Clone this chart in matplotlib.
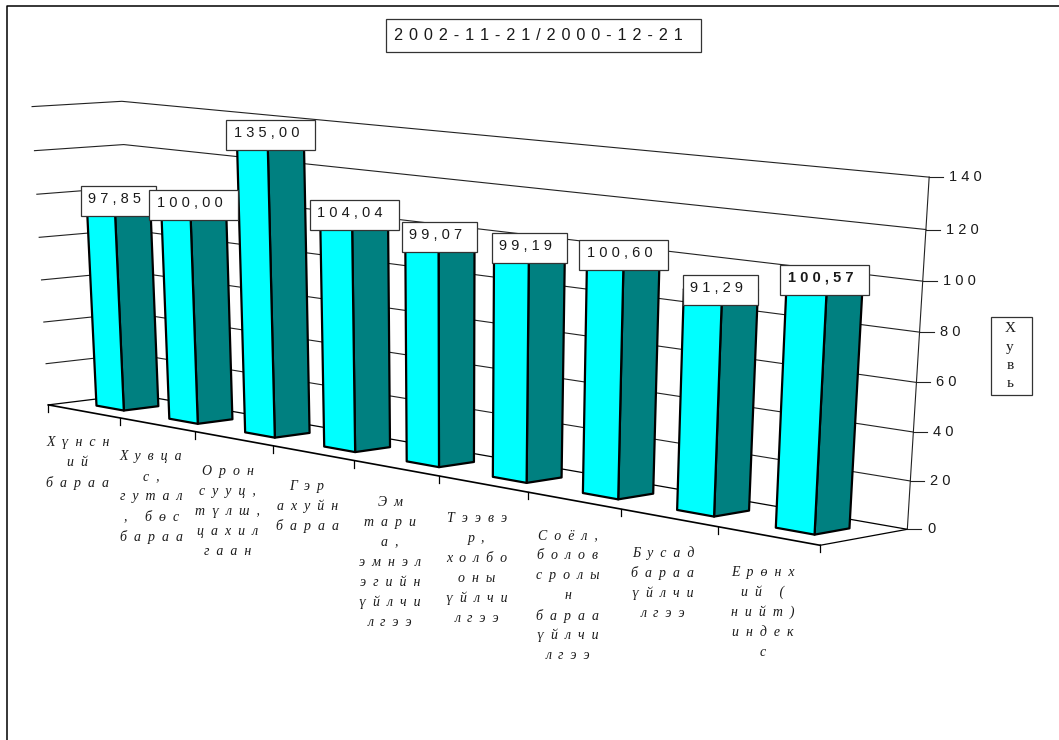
import numpy as np
import matplotlib
matplotlib.use("Agg")
import matplotlib.pyplot as plt
from matplotlib.patches import Polygon, Rectangle

title = "2002-11-21/2000-12-21"
axis_name = ["Х", "у", "в", "ь"]

values = [97.85, 100.00, 135.00, 104.04, 99.07, 99.19, 100.60, 91.29, 100.57]
value_labels = ["97,85", "100,00", "135,00", "104,04", "99,07",
                "99,19", "100,60", "91,29", "100,57"]
categories = [
    ["Хүнсн", "ий", "бараа"],
    ["Хувца", "с,", "гутал", ", бөс", "бараа"],
    ["Орон", "сууц,", "түлш,", "цахил", "гаан"],
    ["Гэр", "ахуйн", "бараа"],
    ["Эм", "тари", "а,", "эмнэл", "эгийн", "үйлчи", "лгээ"],
    ["Тээвэ", "р,", "холбо", "оны", "үйлчи", "лгээ"],
    ["Соёл,", "болов", "сролы", "н", "бараа", "үйлчи", "лгээ"],
    ["Бусад", "бараа", "үйлчи", "лгээ"],
    ["Ерөнх", "ий (", "нийт)", "индек", "с"],
]
y_ticks = [0, 20, 40, 60, 80, 100, 120, 140]

CYAN = "#00ffff"
TEAL = "#008080"
INK = "#1a1a1a"

# chart box (u = category, d = depth, h = value) to pixel, fitted on corners and ticks
n = len(values)
box_pts = [(0, 0, 0), (3, 0, 0), (6, 0, 0), (n, 0, 0), (n, 1, 0), (0, 1, 0),
           (n, 1, 60), (n, 1, 140), (0, 1, 140), (0, 0, 140), (0, 0, 60)]
pix_pts = [(48, 405), (272, 447), (527, 493), (822, 541), (907, 531), (135, 393),
           (916, 384), (929, 177), (122, 100), (32, 107), (42, 281)]

rows = []
rhs = []
for (u, d, h), (px, py) in zip(box_pts, pix_pts):
    rows.append([u, d, h, 1, 0, 0, 0, 0, -px * u, -px * d, -px * h])
    rows.append([0, 0, 0, 0, u, d, h, 1, -py * u, -py * d, -py * h])
    rhs += [px, py]
cam = np.linalg.lstsq(np.array(rows, float), np.array(rhs, float), rcond=None)[0]
cam = np.append(cam, 1).reshape(3, 4)


def project(u, d, h):
    p = cam @ np.array([u, d, h, 1.0])
    return p[0] / p[2], p[1] / p[2]


def spaced(text, gap=" "):
    return gap.join(text)


def text_box(ax, cx, cy, w, h, z):
    ax.add_patch(Rectangle((cx - w / 2, cy - h / 2), w, h, facecolor="white",
                           edgecolor="#333333", lw=0.9, zorder=z))


fig = plt.figure(figsize=(10.59, 7.4), dpi=100)
ax = fig.add_axes([0, 0, 1, 1])
ax.set_xlim(0, 1059)
ax.set_ylim(740, 0)
ax.axis("off")

sans = "Liberation Sans"
serif = "Liberation Serif"

# outer frame, open on the right
ax.plot([7, 7, 1059], [740, 5.5, 5.5], color="black", lw=1.1)

# grid on the back and left walls
for v in y_ticks[1:]:
    xs, ys = zip(project(0, 0, v), project(0, 1, v), project(n, 1, v))
    ax.plot(xs, ys, color="#222222", lw=0.8, zorder=1)

for v in y_ticks:
    tx, ty = project(n, 1, v)
    ax.plot([tx, tx + 14], [ty, ty], color="#222222", lw=0.8, zorder=1)
    ax.text(tx + 20, ty, spaced(str(v)), family=sans, fontsize=10.5, color=INK,
            va="center", ha="left")

# floor and right edge
xs, ys = zip(project(0, 0, 0), project(0, 1, 0), project(n, 1, 0), project(n, 0, 0), project(0, 0, 0))
ax.plot(xs[:3], ys[:3], color="black", lw=0.9, zorder=1)
ax.plot(xs[2:4], ys[2:4], color="black", lw=0.9, zorder=1)
ax.plot(xs[3:], ys[3:], color="black", lw=1.2, zorder=1)

xs, ys = zip(project(n, 1, 0), project(n, 1, 140))
ax.plot(xs, ys, color="#222222", lw=0.8, zorder=1)

# ticks on the front edge
for i in range(n + 1):
    tx, ty = project(i, 0, 0)
    ax.plot([tx, tx], [ty, ty + 7], color="black", lw=0.9, zorder=1)

# bars
bar_a = 0.31
bar_b = 0.30
for i, v in enumerate(values):
    u0, u1 = i + bar_a, i + 1 - bar_a
    d0, d1 = bar_b, 1 - bar_b
    front = [project(u0, d0, 0), project(u1, d0, 0), project(u1, d0, v), project(u0, d0, v)]
    side = [project(u1, d0, 0), project(u1, d1, 0), project(u1, d1, v), project(u1, d0, v)]
    top = [project(u0, d0, v), project(u1, d0, v), project(u1, d1, v), project(u0, d1, v)]
    z = 3 + i * 0.01
    ax.add_patch(Polygon(top, facecolor=CYAN, edgecolor="black", lw=1.6, joinstyle="round", zorder=z))
    ax.add_patch(Polygon(side, facecolor=TEAL, edgecolor="black", lw=1.6, joinstyle="round", zorder=z))
    ax.add_patch(Polygon(front, facecolor=CYAN, edgecolor="black", lw=1.6, joinstyle="round", zorder=z))

# value labels sit on the middle of the bar top
for i, (v, lab) in enumerate(zip(values, value_labels)):
    lx, ly = project(i + 0.5, 0.5, v)
    ly += 1
    last = i == n - 1
    z = 5 + i * 0.01
    text_box(ax, lx, ly, 14 * len(lab) + 5, 30, z)
    ax.text(lx - 4, ly - 2, spaced(lab), family=sans, fontsize=10.5, color=INK,
            fontweight="bold" if last else "normal", ha="center", va="center", zorder=z)

# category labels, wrapped by hand like the original
for i, lines in enumerate(categories):
    cx, cy = project(i + 0.5, 0, 0)
    cx -= 6
    cy += 31.5 + 0.6 * i
    for k, line in enumerate(lines):
        ax.text(cx, cy + k * 20, spaced(line, "  "), family=serif, style="italic",
                fontsize=10, color=INK, ha="center", va="center")

# title box
text_box(ax, 543.5, 35.5, 315, 33, 5)
ax.text(538.5, 35, spaced(title, " \u200a"), family=sans, fontsize=11.7, color=INK,
        ha="center", va="center", zorder=6)

# axis name box
text_box(ax, 1011.5, 356, 41, 78, 5)
for k, ch in enumerate(axis_name):
    ax.text(1010, 329 + k * 18.3, ch, family=serif, fontsize=11, color=INK,
            ha="center", va="center", zorder=6)

fig.savefig("out.png", dpi=100)
